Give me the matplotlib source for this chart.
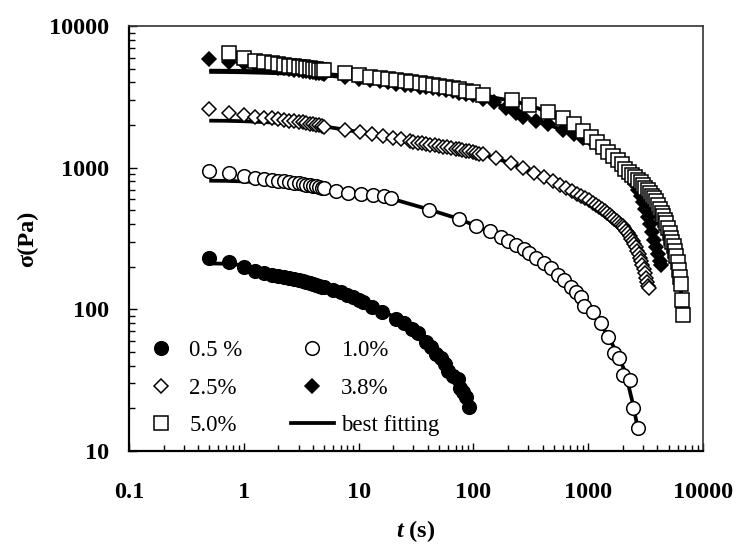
import matplotlib
matplotlib.use("Agg")
import matplotlib.pyplot as plt
from matplotlib.ticker import LogLocator, NullFormatter
from matplotlib.lines import Line2D

# 0.5 %
t_05 = [0.5, 0.75, 1.0, 1.25, 1.5, 1.75, 2.0, 2.25, 2.5, 2.75, 3.0, 3.25, 3.5, 3.75,
        4.0, 4.25, 4.5, 4.75, 5.0, 6, 7, 8, 9, 10, 11, 13, 16, 21, 25, 29, 33, 39,
        43, 47, 52, 56, 60, 66, 73, 77, 81, 86, 92]
s_05 = [230, 217, 200, 186, 180, 176, 172, 169, 166, 163, 160, 158, 155, 153,
        151, 149, 147, 145, 143, 137, 132, 127, 122, 117, 113, 104, 96, 86, 80, 73, 68, 59,
        54, 48, 45, 41, 37, 34, 32, 28, 26, 24, 20.5]

# 1.0 %
t_10 = [0.5, 0.75, 1.0, 1.25, 1.5, 1.75, 2.0, 2.25, 2.5, 2.75, 3.0, 3.25, 3.5, 3.75,
        4.0, 4.25, 4.5, 4.75, 5.0, 6.4, 8.1, 10.5, 13.3, 16.8, 19.2, 41, 75, 105, 138,
        174, 199, 235, 277, 307, 351, 414, 473, 541, 618, 706, 781, 863, 923, 1090,
        1290, 1500, 1680, 1860, 1990, 2300, 2430, 2690]
s_10 = [953, 922, 873, 850, 835, 822, 810, 800, 790, 782, 775, 768, 760, 752,
        745, 738, 730, 724, 716, 680, 667, 652, 641, 631, 610, 502, 435, 386, 355,
        323, 304, 283, 268, 249, 232, 211, 195, 175, 160, 145, 133, 123, 105, 96,
        80, 64, 49, 45, 34.4, 31.8, 20, 14.5]

# 2.5 %
t_25 = [0.5, 0.75, 1.0, 1.25, 1.5, 1.75, 2.0, 2.25, 2.5, 2.75, 3.0, 3.25, 3.5, 3.75,
        4.0, 4.25, 4.5, 4.75, 5.0, 7.55, 10.2, 13.2, 16.3, 19.9, 23.5, 27.8, 30, 32.8,
        35.5, 38.8, 42, 45.8, 50, 54, 59, 64, 70, 75.5, 80, 86, 92, 98.6, 105, 112,
        120, 157, 212, 268, 339, 414, 490, 565, 640, 715, 790, 865, 940, 1015, 1090,
        1165, 1240, 1315, 1390, 1465, 1540, 1615, 1690, 1765, 1840, 1915, 1990, 2065,
        2140, 2215, 2290, 2365, 2440, 2515, 2590, 2665, 2740, 2815, 2890, 2965, 3040,
        3115, 3190, 3265, 3340, 3390]
s_25 = [2580, 2420, 2356, 2300, 2260, 2230, 2200, 2175, 2150, 2130, 2110, 2090, 2070, 2050,
        2030, 2010, 1990, 1970, 1946, 1846, 1795, 1730, 1674, 1630, 1585, 1542, 1525, 1502,
        1485, 1469, 1453, 1438, 1422, 1407, 1390, 1370, 1360, 1349, 1335, 1319, 1305, 1291, 1275, 1260,
        1244, 1165, 1074, 991, 913, 865, 800, 755, 716, 690, 657, 632, 612, 592, 568,
        546, 530, 513, 497, 481, 466, 450, 437, 424, 410, 397, 385, 373,
        360, 345, 330, 316, 303, 291, 276, 260, 245, 232, 220, 205, 192,
        180, 167, 157, 147, 141]

# 3.8 %
t_38 = [0.5, 0.75, 1.0, 1.25, 1.5, 1.75, 2.0, 2.25, 2.5, 2.75, 3.0, 3.25, 3.5, 3.75,
        4.0, 4.25, 4.5, 4.75, 5.0, 7.55, 10.1, 12.6, 15.2, 18, 21.3, 25.1, 28.7, 33.9,
        38.8, 44.3, 50.6, 57.8, 66, 75.5, 86, 98.6, 120, 150, 192, 235, 268, 350, 450,
        600, 750, 900, 1050, 1200, 1350, 1500, 1650, 1800, 1950, 2100, 2250, 2400, 2550,
        2700, 2850, 3000, 3150, 3300, 3450, 3600, 3750, 3900, 4050, 4200, 4290]
s_38 = [5820, 5600, 5500, 5380, 5250, 5150, 5080, 5030, 4970, 4920, 4880, 4830, 4790, 4750,
        4720, 4690, 4660, 4630, 4620, 4380, 4260, 4150, 4070, 4000, 3930, 3860, 3810, 3740,
        3690, 3630, 3570, 3520, 3460, 3370, 3300, 3250, 3080, 2900, 2640, 2420, 2290, 2150, 2030,
        1860, 1730, 1620, 1560, 1460, 1380, 1300, 1220, 1140, 1060, 990, 920, 850, 770,
        700, 630, 570, 510, 450, 400, 350, 310, 275, 245, 220, 206]

# 5.0 %
t_50 = [0.75, 1.0, 1.25, 1.5, 1.75, 2.0, 2.25, 2.5, 2.75, 3.0, 3.25, 3.5, 3.75,
        4.0, 4.25, 4.5, 4.75, 5.0, 7.55, 10.1, 12.6, 15.2, 18, 21.3, 25.1, 28.7, 33.9,
        38.8, 44.3, 50.6, 57.8, 66, 75.5, 86, 98.6, 120, 217, 307, 450, 600, 750, 900,
        1050, 1200, 1350, 1500, 1650, 1800, 1950, 2100, 2250, 2400, 2550, 2700, 2850,
        3000, 3150, 3300, 3450, 3600, 3750, 3900, 4050, 4200, 4350, 4500, 4650, 4800,
        4950, 5100, 5250, 5400, 5550, 5700, 5850, 6000, 6150, 6300, 6450, 6560, 6620]
s_50 = [6410, 5950, 5690, 5550, 5450, 5380, 5320, 5260, 5210, 5160, 5110, 5070, 5030,
        4990, 4960, 4930, 4900, 4890, 4640, 4510, 4390, 4310, 4230, 4160, 4090, 4030, 3960,
        3900, 3840, 3780, 3730, 3670, 3570, 3490, 3440, 3260, 3010, 2770, 2470, 2230, 2030, 1820,
        1660, 1530, 1400, 1300, 1210, 1130, 1060, 975, 935, 895, 860, 825, 795,
        760, 725, 695, 665, 635, 610, 580, 545, 510, 480, 455, 430, 405,
        375, 345, 320, 300, 280, 260, 240, 215, 190, 170, 150, 117, 91]

# best fitting curves
ft_05 = [0.5, 0.7, 1, 1.5, 2, 3, 5, 8, 12, 20, 30, 40, 50, 60, 70, 80, 92]
fs_05 = [211, 210, 205, 190, 178, 163, 144, 127, 111, 89, 73, 61, 50, 41, 34, 28, 21]
ft_10 = [0.5, 0.7, 1, 1.5, 2, 3, 5, 8, 12, 20, 40, 75, 105, 150, 200, 300, 400, 500,
         600, 800, 1000, 1200, 1500, 1800, 2100, 2400, 2700]
fs_10 = [810, 808, 800, 785, 772, 752, 715, 670, 640, 600, 510, 435, 388, 345, 305, 255, 216, 185,
         163, 131, 104, 86, 64, 48, 36, 23, 14.5]
ft_25 = [0.5, 0.7, 1, 1.5, 2, 3, 5, 10, 20, 50, 100, 150, 200, 300, 500, 800, 1200, 1600,
         2000, 2400, 2800, 3100, 3400]
fs_25 = [2150, 2145, 2130, 2100, 2080, 2040, 1960, 1790, 1650, 1460, 1300, 1180, 1090, 960, 790, 650, 540, 455,
         385, 320, 235, 180, 141]
ft_38 = [0.5, 0.7, 1, 2, 5, 10, 20, 50, 100, 200, 300, 500, 1000, 1500, 2000, 2500, 3000,
         3500, 4000, 4300]
fs_38 = [4750, 4740, 4720, 4650, 4500, 4250, 3950, 3570, 3230, 2640, 2230, 1950, 1560, 1300, 1040, 790, 570,
         380, 255, 206]
ft_50 = [0.5, 1, 2, 5, 10, 20, 50, 100, 160, 220, 300, 450, 600, 900, 1200, 1500, 2000,
         2500, 3000, 3500, 4000, 4500, 5000, 5500, 6000, 6300, 6620]
fs_50 = [4850, 4830, 4780, 4600, 4400, 4150, 3780, 3420, 3100, 2960, 2780, 2470, 2230, 1820, 1530, 1300, 1040,
         880, 760, 660, 550, 455, 360, 280, 215, 170, 91]

plt.rcParams['font.family'] = ['Liberation Serif', 'DejaVu Serif']
plt.rcParams['mathtext.fontset'] = 'custom'
plt.rcParams['mathtext.it'] = 'Liberation Serif:style=italic:weight=bold'
plt.rcParams['mathtext.rm'] = 'Liberation Serif:weight=bold'

fig = plt.figure(figsize=(7.37, 5.44), dpi=100)
ax = fig.add_axes([0.175, 0.171, 0.779, 0.781])

fit_lw = 2.7
for ft, fs in [(ft_05, fs_05), (ft_10, fs_10), (ft_25, fs_25), (ft_38, fs_38), (ft_50, fs_50)]:
    ax.plot(ft, fs, color='black', lw=fit_lw, solid_capstyle='butt', zorder=2)

mew = 1.1
ax.plot(t_05, s_05, 'o', ms=9.8, mfc='black', mec='black', mew=mew, zorder=3)
ax.plot(t_10, s_10, 'o', ms=9.8, mfc='white', mec='black', mew=mew, zorder=3)
ax.plot(t_25, s_25, 'D', ms=7.2, mfc='white', mec='black', mew=mew, zorder=4)
ax.plot(t_38, s_38, 'D', ms=7.2, mfc='black', mec='black', mew=mew, zorder=5)
ax.plot(t_50, s_50, 's', ms=10.5, mfc='white', mec='black', mew=mew, zorder=6)

ax.set_xscale('log')
ax.set_yscale('log')
ax.set_xlim(0.1, 10000)
ax.set_ylim(10, 10000)

xt = [0.1, 1, 10, 100, 1000, 10000]
yt = [10, 100, 1000, 10000]
ax.set_xticks(xt, ['0.1', '1', '10', '100', '1000', '10000'])
ax.set_yticks(yt, ['10', '100', '1000', '10000'])
ax.xaxis.set_minor_locator(LogLocator(base=10, subs=range(2, 10), numticks=20))
ax.yaxis.set_minor_locator(LogLocator(base=10, subs=range(2, 10), numticks=20))
ax.xaxis.set_minor_formatter(NullFormatter())
ax.yaxis.set_minor_formatter(NullFormatter())

ax.tick_params(axis='both', which='both', direction='in', top=False, right=False, width=1.0)
ax.tick_params(axis='both', which='major', length=6)
ax.tick_params(axis='both', which='minor', length=4.5)
ax.tick_params(axis='x', which='major', pad=22)
ax.tick_params(axis='y', which='major', pad=14)
for lab in ax.get_xticklabels() + ax.get_yticklabels():
    lab.set_fontsize(17.5)
    lab.set_fontweight('bold')

for side in ['left', 'bottom']:
    ax.spines[side].set_linewidth(1.6)
    ax.spines[side].set_color('black')
for side in ['top', 'right']:
    ax.spines[side].set_linewidth(1.2)
    ax.spines[side].set_color('#333333')

ax.set_ylabel('σ(Pa)', fontsize=17.5, fontweight='bold', labelpad=8)
ax.set_xlabel(r'$\mathit{t}$ (s)', fontsize=17.5, fontweight='bold', labelpad=11)

handles = [
    Line2D([], [], ls='none', marker='o', ms=9.8, mfc='black', mec='black', mew=mew),
    Line2D([], [], ls='none', marker='D', ms=7.2, mfc='white', mec='black', mew=mew),
    Line2D([], [], ls='none', marker='s', ms=10.5, mfc='white', mec='black', mew=mew),
    Line2D([], [], ls='none', marker='o', ms=9.8, mfc='white', mec='black', mew=mew),
    Line2D([], [], ls='none', marker='D', ms=7.2, mfc='black', mec='black', mew=mew),
    Line2D([], [], color='black', lw=fit_lw),
]
labels = ['0.5 %', '2.5%', '5.0%', '1.0%', '3.8%', 'best fitting']
ax.legend(handles, labels, ncol=2, loc='lower left', bbox_to_anchor=(0.017, 0.035),
          frameon=False, fontsize=16.5, borderpad=0, borderaxespad=0,
          handlelength=1.9, handletextpad=0.3, columnspacing=2.1, labelspacing=0.72)

fig.savefig('out.png', dpi=100)
